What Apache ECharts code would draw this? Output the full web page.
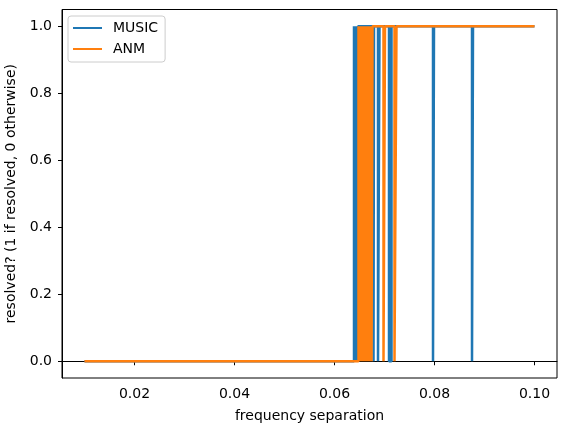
<!DOCTYPE html>
<html>
<head>
<meta charset="utf-8">
<script src="https://cdn.jsdelivr.net/npm/echarts@6/dist/echarts.min.js"></script>
<style>
    html, body { margin: 0; padding: 0; background: #fff; }
    #chart { width: 567px; height: 432px; }
</style>
</head>
<body>
<div id="chart"></div>
<script>
    'use strict';

    // points where the value changes (value holds until the next x)
    var musicX = [0.0100, 0.0639, 0.0641, 0.0643, 0.0645, 0.0647, 0.0678, 0.0679, 0.0687, 0.0690, 0.0709, 0.0714, 0.0797, 0.0799, 0.0875, 0.0877, 0.1000];
    var musicY = [0, 1, 0, 1, 0, 1, 0, 1, 0, 1, 0, 1, 0, 1, 0, 1, 1];

    var anmX = [0.0100, 0.0648, 0.0650, 0.0652, 0.0654, 0.0656, 0.0658, 0.0660, 0.0662, 0.0664, 0.0666, 0.0668, 0.0670, 0.0672, 0.0674, 0.0676, 0.0698, 0.0701, 0.0720, 0.0724, 0.1000];
    var anmY = [0, 1, 0, 1, 0, 1, 0, 1, 0, 1, 0, 1, 0, 1, 0, 1, 0, 1, 0, 1, 1];

    var xTicks = [0.02, 0.04, 0.06, 0.08, 0.10];
    var yTicks = [0.0, 0.2, 0.4, 0.6, 0.8, 1.0];

    function pairs(xs, ys) {
        return xs.map(function(x, i) { return [x, ys[i]]; });
    }

    var font = 'DejaVu Sans';
    var chart = echarts.init(document.getElementById('chart'));

    var option = {
        animation: false,
        textStyle: { fontFamily: font },
        grid: {
            left: 62, right: 10, top: 9.5, bottom: 54,
            containLabel: false,
            outerBoundsMode: 'none',
            show: true, borderColor: '#000', borderWidth: 1
        },
        legend: {
            orient: 'vertical',
            left: 68, top: 16,
            padding: [5, 7, 6, 5],
            itemGap: 7,
            icon: 'rect',
            itemWidth: 29,
            itemHeight: 2,
            borderColor: '#cccccc',
            borderWidth: 1,
            borderRadius: 3,
            backgroundColor: 'rgba(255,255,255,0.8)',
            textStyle: { fontFamily: font, fontSize: 14, color: '#000', padding: [0, 0, 0, 6], lineHeight: 14 },
            data: ['MUSIC', 'ANM']
        },
        xAxis: {
            type: 'value',
            min: 0.0055, max: 0.1045,
            name: 'frequency separation',
            nameLocation: 'middle',
            nameGap: 31,
            nameTextStyle: { fontFamily: font, fontSize: 14, color: '#000' },
            axisLine: { show: true, lineStyle: { color: '#000', width: 1 } },
            axisTick: { show: true, length: 4, customValues: xTicks, lineStyle: { color: '#000' } },
            axisLabel: {
                customValues: xTicks, margin: 9,
                fontFamily: font, fontSize: 14, color: '#000',
                formatter: function(v) { return v.toFixed(2); }
            },
            splitLine: { show: false }
        },
        yAxis: {
            type: 'value',
            min: -0.05, max: 1.05,
            name: 'resolved? (1 if resolved, 0 otherwise)',
            nameLocation: 'middle',
            nameGap: 33,
            nameTextStyle: { fontFamily: font, fontSize: 14, color: '#000' },
            axisLine: { show: true, lineStyle: { color: '#000', width: 1 } },
            axisTick: { show: true, length: 4, customValues: yTicks, lineStyle: { color: '#000' } },
            axisLabel: {
                customValues: yTicks, margin: 10,
                fontFamily: font, fontSize: 14, color: '#000',
                formatter: function(v) { return v.toFixed(1); }
            },
            splitLine: { show: false }
        },
        series: [
            {
                name: 'MUSIC', type: 'line', step: 'end',
                symbol: 'none', color: '#1f77b4',
                lineStyle: { width: 2.5, color: '#1f77b4' },
                data: pairs(musicX, musicY)
            },
            {
                name: 'ANM', type: 'line', step: 'end',
                symbol: 'none', color: '#ff7f0e',
                lineStyle: { width: 2.5, color: '#ff7f0e' },
                data: pairs(anmX, anmY)
            }
        ]
    };

    chart.setOption(option);
</script>
</body>
</html>
